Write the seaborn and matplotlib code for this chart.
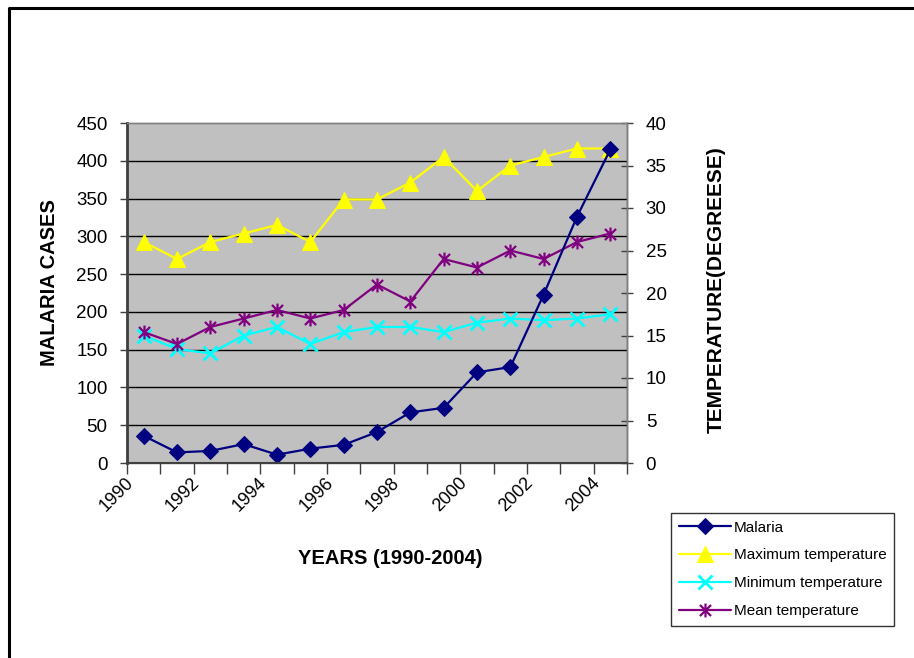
import numpy as np
import pandas as pd
import seaborn as sns
import matplotlib
matplotlib.use("Agg")
import matplotlib.pyplot as plt
from matplotlib.path import Path
from matplotlib.lines import Line2D
from matplotlib.transforms import ScaledTranslation

# Yearly series
years = list(range(1990, 2005))
malaria = [36, 14, 16, 25, 11, 19, 24, 41, 67, 73, 120, 127, 223, 326, 415]
max_temp = [26, 24, 26, 27, 28, 26, 31, 31, 33, 36, 32, 35, 36, 37, 37]
min_temp = [15, 13.4, 12.9, 15, 16, 14, 15.4, 16, 16, 15.4, 16.5, 17, 16.8, 17, 17.5]
mean_temp = [15.4, 14, 16, 17, 18, 17, 18, 21, 19, 24, 23, 25, 24, 26, 27]

year_labels = ["1990", "1992", "1994", "1996", "1998", "2000", "2002", "2004"]
left_ticks = [0, 50, 100, 150, 200, 250, 300, 350, 400, 450]
right_ticks = [0, 5, 10, 15, 20, 25, 30, 35, 40]

df = pd.DataFrame({
    "year": years,
    "Malaria": malaria,
    "Maximum temperature": max_temp,
    "Minimum temperature": min_temp,
    "Mean temperature": mean_temp,
})

sns.set_theme(style="white")
plt.rcParams["font.family"] = ["Liberation Sans", "DejaVu Sans"]
plt.rcParams["text.color"] = "black"
plt.rcParams["axes.labelcolor"] = "black"
plt.rcParams["xtick.color"] = "black"
plt.rcParams["ytick.color"] = "black"

# asterisk marker: an x with a vertical stroke
star_path = Path(
    [(-1, -1), (1, 1), (-1, 1), (1, -1), (0, -1.25), (0, 1.25)],
    [Path.MOVETO, Path.LINETO, Path.MOVETO, Path.LINETO, Path.MOVETO, Path.LINETO],
)

W, H = 914, 658
fig = plt.figure(figsize=(W / 100, H / 100), dpi=100)
fig.patch.set_facecolor("white")

x0, x1, ytop, ybot = 127, 627, 123, 463
ax = fig.add_axes([x0 / W, 1 - ybot / H, (x1 - x0) / W, (ybot - ytop) / H])
ax2 = ax.twinx()

sns.lineplot(data=df, x="year", y="Malaria", ax=ax, color="#000080",
             marker="D", markersize=8.5, markeredgecolor="#000080", linewidth=1.6,
             label="Malaria", legend=False)
sns.lineplot(data=df, x="year", y="Maximum temperature", ax=ax2, color="#FFFF00",
             marker="^", markersize=12, markeredgecolor="#FFFF00", linewidth=1.6,
             label="Maximum temperature", legend=False)
sns.lineplot(data=df, x="year", y="Minimum temperature", ax=ax2, color="#00FFFF",
             marker="x", markersize=9.5, markeredgewidth=2, markeredgecolor="#00FFFF",
             linewidth=1.6, label="Minimum temperature", legend=False)
sns.lineplot(data=df, x="year", y="Mean temperature", ax=ax2, color="#800080",
             marker=star_path, markersize=10, markeredgewidth=1.6,
             markeredgecolor="#800080", markerfacecolor="none", linewidth=1.6,
             label="Mean temperature", legend=False)

# malaria axes drawn on top, grey plot area on the temperature axes behind it
ax.set_zorder(ax2.get_zorder() + 1)
ax.patch.set_visible(False)
ax2.patch.set_visible(True)
ax2.patch.set_facecolor("#C0C0C0")

ax.set_xlim(years[0] - 0.5, years[-1] + 0.5)
ax.set_ylim(0, 450)
ax2.set_ylim(0, 40)

ax.set_yticks(left_ticks)
ax.set_yticklabels([str(t) for t in left_ticks])
ax2.set_yticks(right_ticks)
ax2.set_yticklabels([str(t) for t in right_ticks])

# gridlines of the case axis
for v in left_ticks[1:-1]:
    ax2.axhline(v * 40 / 450, color="black", linewidth=1, zorder=0.5)

# category boundaries as tick marks, year labels on every other category
ax.set_xticks(np.arange(years[0] - 0.5, years[-1] + 1.0, 1.0))
ax.set_xticklabels([])
ax.set_xticks([int(y) for y in year_labels], minor=True)
ax.set_xticklabels(year_labels, minor=True, rotation=45, ha="right",
                   rotation_mode="anchor", fontsize=13)
ax.tick_params(axis="x", which="major", direction="out", length=8, width=1,
               color="#404040", bottom=True)
ax.tick_params(axis="x", which="minor", length=0, pad=8)
ax2.tick_params(axis="x", which="both", bottom=False, labelbottom=False)

ax.tick_params(axis="y", direction="out", length=5, width=1, color="#404040",
               pad=9, labelsize=13.5, left=True)
ax2.tick_params(axis="y", direction="inout", length=9, width=1, color="#404040",
                pad=9, labelsize=13.5, right=True)

# year labels sit a little left of their category centre
shift = ScaledTranslation(-0.19, 0.0, fig.dpi_scale_trans)
for tick in ax.xaxis.get_minor_ticks():
    tick.label1.set_transform(tick.label1.get_transform() + shift)

for a in (ax, ax2):
    for s in a.spines.values():
        s.set_color("#808080")
        s.set_linewidth(1)
ax.spines["left"].set_color("#404040")
ax.spines["left"].set_linewidth(2)
ax.spines["bottom"].set_color("#404040")
ax.spines["bottom"].set_linewidth(1.5)
ax2.spines["right"].set_color("#404040")

ax.set_xlabel("YEARS (1990-2004)", fontsize=14.5, fontweight="bold", va="center")
ax.xaxis.set_label_coords((390 - x0) / (x1 - x0), (ybot - 558) / (ybot - ytop))
ax.set_ylabel("MALARIA CASES", fontsize=14.5, fontweight="bold", va="center")
ax.yaxis.set_label_coords((49 - x0) / (x1 - x0), (ybot - 283) / (ybot - ytop))
ax2.set_ylabel("TEMPERATURE(DEGREESE)", fontsize=15, fontweight="bold",
               va="center", rotation=90)
ax2.yaxis.set_label_coords((716 - x0) / (x1 - x0), (ybot - 290) / (ybot - ytop))

# legend collected from both axes
h1, l1 = ax.get_legend_handles_labels()
h2, l2 = ax2.get_legend_handles_labels()
leg = fig.legend(h1 + h2, l1 + l2, loc="upper left",
                 bbox_to_anchor=(671 / W, 1 - 513 / H), frameon=True,
                 fancybox=False, fontsize=11, handlelength=3.4,
                 handletextpad=0.2, labelspacing=0.9, borderpad=0.5,
                 borderaxespad=0)
leg.get_frame().set_edgecolor("black")
leg.get_frame().set_linewidth(1)

# chart-area border (left and top edges)
fig.add_artist(Line2D([9 / W, 9 / W, 1.0], [0.0, 1 - 8 / H, 1 - 8 / H],
                      transform=fig.transFigure, color="black", linewidth=2.2))

fig.savefig("out.png", dpi=100, facecolor="white")
